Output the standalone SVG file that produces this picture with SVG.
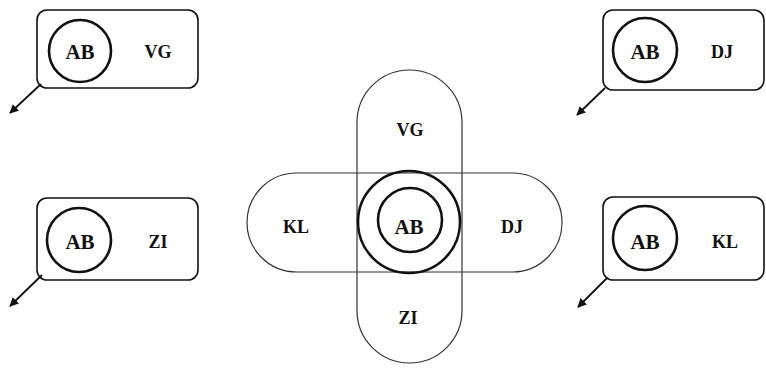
<svg xmlns="http://www.w3.org/2000/svg" width="766" height="376" viewBox="0 0 766 376">
<defs>
<style>
.box{fill:none;stroke:#111;stroke-width:1.6}
.ring{fill:none;stroke:#111;stroke-width:2.6}
.pill{fill:none;stroke:#333;stroke-width:1.2}
.t{font-family:"Liberation Serif",serif;font-weight:bold;fill:#111;text-anchor:middle;dominant-baseline:central}
.ab{font-size:21px}
.lb{font-size:18px}
.con{stroke:#111;stroke-width:1.8;fill:none}
</style>
<marker id="ah" viewBox="0 0 10 10" refX="9" refY="5" markerWidth="9" markerHeight="9" orient="auto" markerUnits="userSpaceOnUse">
<path d="M0,0 L10,5 L0,10 z" fill="#111"/>
</marker>
</defs>
<rect width="766" height="376" fill="#fff"/>
<g id="center">
<rect class="pill" x="357" y="70" width="105" height="293" rx="52.5" ry="52.5"/>
<rect class="pill" x="247" y="173" width="315" height="99" rx="49.5" ry="49.5"/>
<circle class="ring" cx="409" cy="222" r="51"/>
<circle class="ring" cx="410" cy="220" r="32"/>
<text class="t ab" x="409" y="227">AB</text>
<text class="t lb" x="410" y="130">VG</text>
<text class="t lb" x="296" y="227">KL</text>
<text class="t lb" x="512" y="227">DJ</text>
<text class="t lb" x="408" y="318">ZI</text>
</g>
<g id="box-vg">
<rect class="box" x="37" y="10" width="161" height="78" rx="10"/>
<circle class="ring" cx="80" cy="51" r="31"/>
<text class="t ab" x="80" y="52">AB</text>
<text class="t lb" x="158" y="52">VG</text>
</g>
<g id="box-dj">
<rect class="box" x="603" y="10" width="161" height="80" rx="10"/>
<circle class="ring" cx="645" cy="50" r="32"/>
<text class="t ab" x="645" y="52">AB</text>
<text class="t lb" x="722" y="52">DJ</text>
</g>
<g id="box-zi">
<rect class="box" x="37" y="198" width="161" height="82" rx="10"/>
<circle class="ring" cx="79" cy="240" r="32"/>
<text class="t ab" x="80" y="242">AB</text>
<text class="t lb" x="158" y="242">ZI</text>
</g>
<g id="box-kl">
<rect class="box" x="603" y="197" width="161" height="83" rx="10"/>
<circle class="ring" cx="645" cy="238" r="32"/>
<text class="t ab" x="645" y="242">AB</text>
<text class="t lb" x="725" y="242">KL</text>
</g>
<g id="connectors">
<line class="con" x1="41" y1="84" x2="10" y2="113" marker-end="url(#ah)"/>
<line class="con" x1="605" y1="88" x2="577" y2="115" marker-end="url(#ah)"/>
<line class="con" x1="42" y1="275" x2="10" y2="306" marker-end="url(#ah)"/>
<line class="con" x1="607" y1="278" x2="578" y2="307" marker-end="url(#ah)"/>
</g>
</svg>
